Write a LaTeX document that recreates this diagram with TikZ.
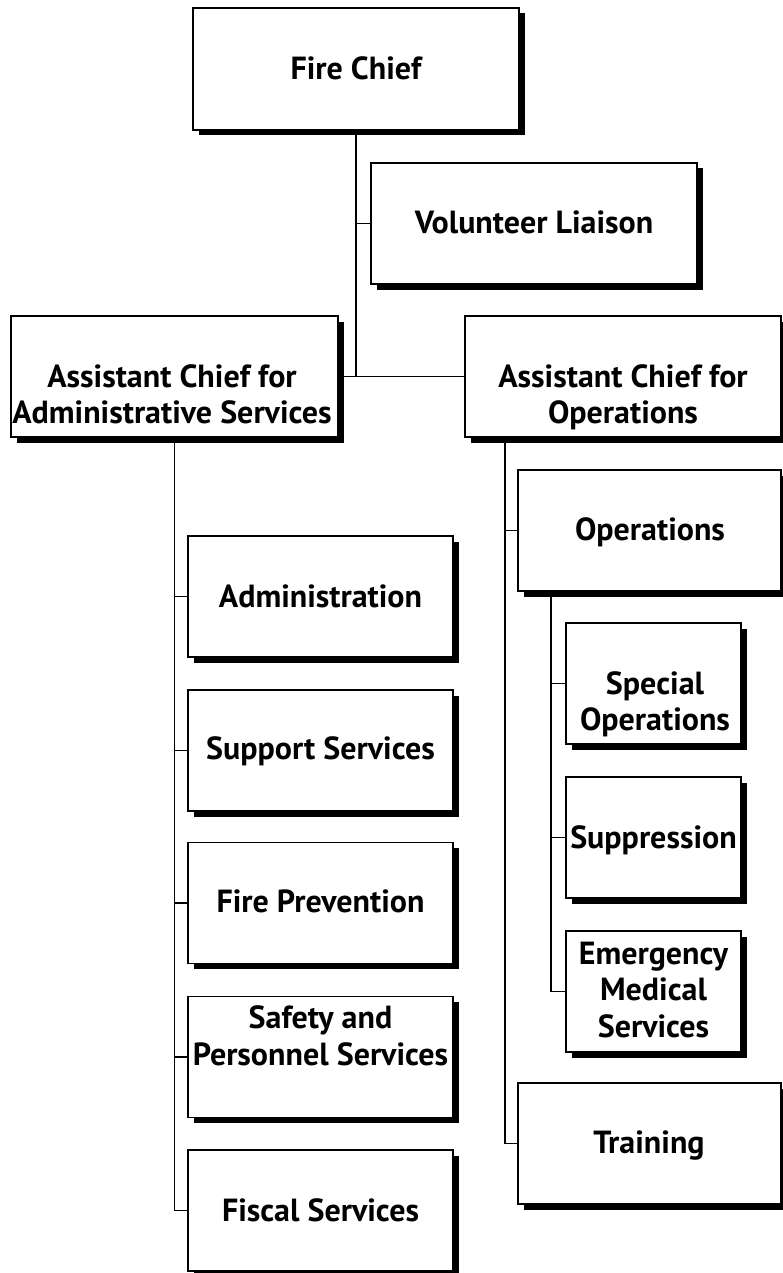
\documentclass[tikz,border=0pt]{standalone}
\usepackage{fontspec}
\setmainfont{PT Sans}
\usetikzlibrary{shadows}
\begin{document}
\begin{tikzpicture}[x=1pt,y=-1pt,
  box/.style={draw=black, line width=1.6pt, fill=white, inner sep=0pt,
    drop shadow={shadow xshift=5.5pt, shadow yshift=-5.5pt, fill=black, opacity=1}},
  lbl/.style={font=\bfseries\fontsize{32}{36.5}\selectfont, align=center, anchor=base, inner sep=0pt},
  con/.style={draw=black, line width=1.6pt}]
\useasboundingbox (0,0) rectangle (782,1273);

% boxes
\node[box, minimum width=326pt, minimum height=122pt] (chief) at (356,69) {};
\node[box, minimum width=326pt, minimum height=121pt] (vol) at (534,223.5) {};
\node[box, minimum width=327pt, minimum height=121pt] (aadm) at (174.5,376.5) {};
\node[box, minimum width=316pt, minimum height=121pt] (aops) at (623,376.5) {};
\node[box, minimum width=263pt, minimum height=121pt] (ops) at (649.5,530.5) {};
\node[box, minimum width=175pt, minimum height=121pt] (spec) at (653.5,683.5) {};
\node[box, minimum width=175pt, minimum height=121pt] (supp) at (653.5,837.5) {};
\node[box, minimum width=175pt, minimum height=121pt] (ems) at (653.5,991.5) {};
\node[box, minimum width=263pt, minimum height=121pt] (train) at (649.5,1143.5) {};
\node[box, minimum width=265pt, minimum height=121pt] (admin) at (320.5,596.5) {};
\node[box, minimum width=265pt, minimum height=121pt] (support) at (320.5,750.5) {};
\node[box, minimum width=265pt, minimum height=121pt] (prev) at (320.5,903) {};
\node[box, minimum width=265pt, minimum height=121pt] (safety) at (320.5,1057) {};
\node[box, minimum width=265pt, minimum height=121pt] (fiscal) at (320.5,1210.5) {};

% labels (anchor=base is the baseline of the last line)
\node[lbl] (chief-t) at (356,80) {Fire Chief};
\node[lbl] (vol-t) at (534,233.5) {Volunteer Liaison};
\node[lbl] (aadm-t) at (172,423.5) {Assistant Chief for\\Administrative Services};
\node[lbl] (aops-t) at (623,423.5) {Assistant Chief for\\Operations};
\node[lbl] (ops-t) at (650,540.5) {Operations};
\node[lbl] (spec-t) at (655,730.5) {Special\\Operations};
\node[lbl] (supp-t) at (653.5,848) {Suppression};
\node[lbl] (ems-t) at (653.5,1037) {Emergency\\Medical\\Services};
\node[lbl] (train-t) at (649,1153.5) {Training};
\node[lbl] (admin-t) at (320.5,607) {Administration};
\node[lbl] (support-t) at (320.5,759) {Support Services};
\node[lbl] (prev-t) at (320.5,912) {Fire Prevention};
\node[lbl] (safety-t) at (320.5,1065) {Safety and\\Personnel Services};
\node[lbl] (fiscal-t) at (320.5,1221) {Fiscal Services};

% connectors
\coordinate (cj) at (356,376.5);
\coordinate (os) at (505,0);
\coordinate (ss) at (551,0);
\draw[con] (chief.south) -- (cj);
\draw[con] (cj |- vol.west) -- (vol.west);
\draw[con] (aadm.east) -- (aops.west);
\draw[con] (aadm.south) |- (fiscal.west);
\foreach \n in {admin,support,prev,safety}
  \draw[con] (aadm.south |- \n.west) -- (\n.west);
\draw[con] (aops.south -| os) |- (train.west);
\draw[con] (os |- ops.west) -- (ops.west);
\draw[con] (ops.south -| ss) |- (ems.west);
\foreach \n in {spec,supp}
  \draw[con] (ss |- \n.west) -- (\n.west);
\end{tikzpicture}
\end{document}
